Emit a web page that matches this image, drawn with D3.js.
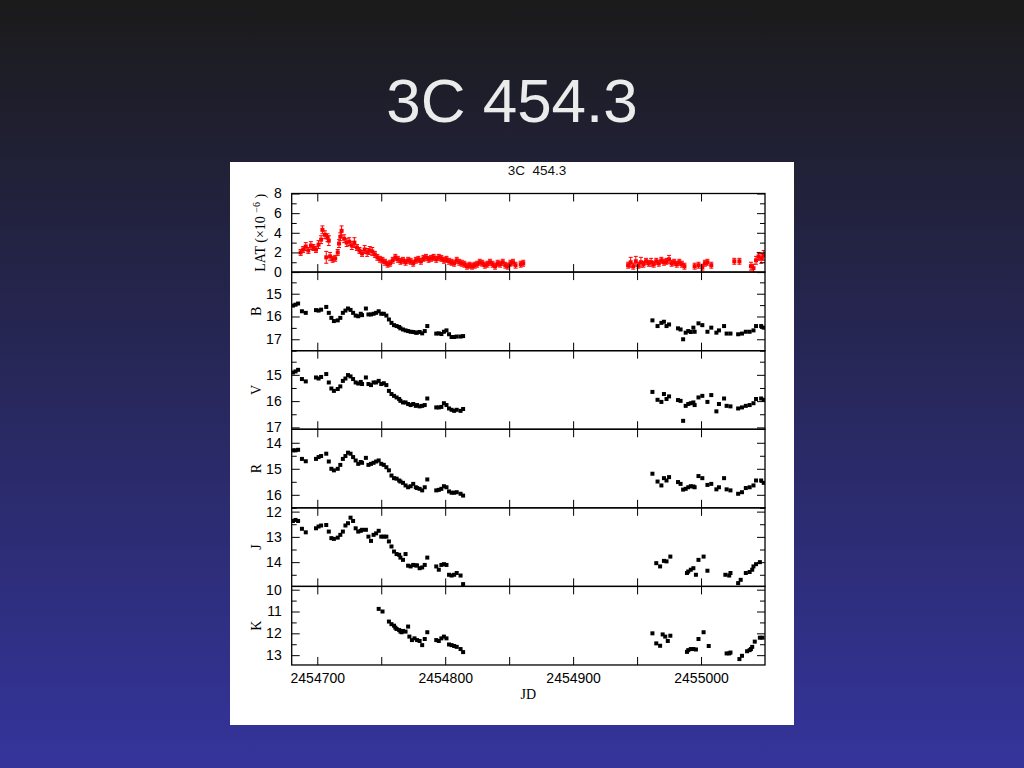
<!DOCTYPE html>
<html><head><meta charset="utf-8">
<script src="https://cdn.jsdelivr.net/npm/d3@7"></script>
<style>html,body{margin:0;padding:0;overflow:hidden;background:#1b1b1b}</style>
</head><body>
<svg id="c" width="1024" height="768"></svg>
<script>
// ---------------- DATA ----------------
const slideTitle = "3C 454.3";
const plotTitle = "3C  454.3";
const JD0 = 2454680;                 // times below are days since JD0
const xDomain = [2454680, 2455050];
const xTicks = [2454700, 2454750, 2454800, 2454850, 2454900, 2454950, 2455000];
const xLabels = [2454700, 2454800, 2454900, 2455000];

// Fermi LAT flux (x10^-6)
const latT = [7,9,11,13,15,17,19,21,23,24,26,27,28,29,30,32,34,36,37,38,39,41,43,45,47,49,51,53,55,57,59,61,63,65,67,69,71,73,75,77,79,81,83,85,87,89,91,93,95,97,99,101,103,105,107,109,111,113,115,117,119,121,123,125,127,129,131,133,135,137,139,141,143,145,147,149,151,153,155,157,159,161,163,165,167,169,171,173,175,179,181,
 263,265,267,269,271,273,275,277,279,281,283,285,287,289,291,293,295,297,299,301,303,305,307,315,318,321,323,325,328,346,350,359,361,363,365,367,369];
const latFlux = [2.0,2.3,2.6,2.2,2.7,2.5,2.3,2.8,3.3,4.3,3.8,1.5,3.5,3.2,1.6,1.3,1.4,2.0,2.9,3.6,4.2,3.4,3.0,3.1,2.7,3.0,2.5,2.2,1.9,2.3,2.0,2.2,2.1,1.8,1.5,1.3,1.2,1.0,0.8,0.9,1.2,1.5,1.3,1.1,1.2,1.0,1.2,1.1,0.9,1.2,1.3,1.1,1.4,1.5,1.3,1.4,1.5,1.3,1.5,1.4,1.2,1.3,1.1,1.0,0.9,1.2,1.0,0.9,0.8,0.6,0.7,0.6,0.7,0.8,1.0,0.9,0.7,0.8,1.0,0.8,0.6,0.9,0.8,1.0,0.7,0.6,0.9,1.0,0.7,0.8,0.9,
 0.7,1.0,0.6,1.1,0.7,1.0,0.8,1.1,0.9,1.0,0.8,1.1,0.9,1.2,1.0,1.1,1.3,0.9,1.0,0.8,1.0,0.8,0.6,0.6,0.7,0.5,0.9,1.0,0.7,1.1,1.1,0.6,0.4,1.2,1.6,1.4,1.7];
const latErr = [0.3,0.3,0.4,0.3,0.4,0.3,0.3,0.4,0.4,0.4,0.4,0.6,0.4,0.5,0.4,0.3,0.3,0.3,0.4,0.4,0.5,0.4,0.4,0.4,0.4,0.5,0.3,0.3,0.3,0.4,0.4,0.4,0.4,0.3,0.3,0.3,0.3,0.3,0.3,0.3,0.3,0.3,0.3,0.3,0.3,0.3,0.3,0.3,0.3,0.3,0.3,0.3,0.3,0.3,0.3,0.3,0.3,0.3,0.3,0.3,0.3,0.3,0.3,0.3,0.3,0.3,0.3,0.3,0.3,0.3,0.3,0.3,0.3,0.3,0.3,0.3,0.3,0.3,0.3,0.3,0.3,0.3,0.3,0.3,0.3,0.3,0.3,0.3,0.3,0.3,0.3,
 0.3,0.5,0.3,0.5,0.3,0.5,0.3,0.3,0.3,0.4,0.3,0.3,0.3,0.3,0.3,0.3,0.4,0.3,0.3,0.3,0.3,0.3,0.3,0.3,0.3,0.3,0.3,0.3,0.3,0.3,0.3,0.4,0.4,0.4,0.4,0.5,0.5];

// Optical / NIR magnitudes, season 1 (shared epochs for B, V, R, J)
const optT1 = [1,3,5,8,11,19,21,23,27,29,31,33,36,38,40,42,44,46,48,50,52,54,55,58,60,62,64,66,68,70,72,74,76,78,80,82,84,85,87,89,91,93,95,97,98,100,102,104,106,113,115,117,119,121,123,125,127,129,132,134];
const bMag1 = [15.52,15.48,15.43,15.77,15.84,15.72,15.74,15.70,15.58,15.84,16.06,16.20,16.17,16.06,15.84,15.74,15.65,15.71,15.84,15.96,15.99,15.88,15.94,15.65,15.91,15.91,15.88,15.84,15.77,15.88,15.88,15.96,16.13,16.28,16.38,16.42,16.46,16.52,16.57,16.61,16.64,16.67,16.68,16.71,16.71,16.68,16.74,16.64,16.42,16.75,16.74,16.77,16.67,16.61,16.78,16.90,16.90,16.88,16.88,16.86];
const vMag1 = [14.91,14.87,14.81,15.16,15.25,15.10,15.14,15.08,14.97,15.29,15.52,15.61,15.54,15.44,15.23,15.14,15.01,15.06,15.16,15.29,15.33,15.27,15.35,15.10,15.35,15.39,15.29,15.29,15.23,15.35,15.32,15.39,15.61,15.73,15.80,15.86,15.92,15.99,16.05,16.05,16.11,16.15,16.11,16.18,16.15,16.20,16.18,16.15,15.90,16.24,16.24,16.22,16.08,16.15,16.28,16.33,16.37,16.33,16.37,16.30];
const rMag1 = [14.29,14.29,14.27,14.62,14.71,14.62,14.55,14.51,14.42,14.72,15.00,15.06,15.00,14.85,14.62,14.51,14.38,14.42,14.55,14.68,14.81,14.74,14.77,14.58,14.85,14.81,14.77,14.72,14.68,14.81,14.85,14.94,15.06,15.26,15.36,15.38,15.45,15.49,15.54,15.64,15.71,15.67,15.58,15.71,15.74,15.77,15.83,15.71,15.41,15.83,15.81,15.77,15.67,15.71,15.87,15.92,15.92,15.90,15.96,16.03];
const jMag1 = [12.37,12.33,12.37,12.68,12.82,12.66,12.59,12.55,12.53,12.79,13.05,13.08,13.03,12.92,12.79,12.55,12.46,12.24,12.37,12.66,12.79,12.76,12.72,12.72,12.99,13.16,12.92,12.86,12.76,12.99,12.99,12.99,13.18,13.38,13.58,13.68,13.71,13.82,13.91,13.68,14.14,14.17,14.11,14.13,14.13,14.24,14.21,14.11,13.82,14.17,14.30,14.11,14.08,14.11,14.50,14.53,14.50,14.43,14.53,14.87];
const kT1 = [68,71,76,78,80,81,82,84,85,86,87,89,91,92,94,96,98,100,102,104,106,113,115,117,119,121,123,125,127,129,132,134];
const kMag1 = [10.88,11.0,11.46,11.58,11.65,11.74,11.8,11.85,11.92,11.95,11.89,11.92,11.69,12.15,12.31,12.23,12.31,12.35,12.54,12.26,11.95,12.31,12.35,12.23,12.15,12.23,12.51,12.54,12.58,12.62,12.72,12.86];

// season 2
const optT2 = [282,286,289,291,293,295,302,304,306,308,310,312,314,315,318,321,325,328,332,334,338,340,343,349,352,355,358,361,363,367,369];
const bMag2 = [16.17,16.42,16.28,16.23,16.42,16.35,16.52,16.57,17.0,16.71,16.64,16.68,16.49,16.67,16.30,16.38,16.67,16.49,16.71,16.61,16.42,16.75,16.75,16.78,16.75,16.67,16.67,16.61,16.42,16.42,16.49];
const vMag2 = [15.65,15.95,16.03,15.73,15.92,15.82,15.96,15.99,16.75,16.18,16.11,16.08,16.05,16.15,15.86,15.80,16.03,15.77,16.39,16.11,15.90,16.18,16.20,16.28,16.24,16.18,16.15,16.08,15.92,15.90,15.95];
const rMag2 = [15.19,15.49,15.64,15.36,15.45,15.32,15.51,15.58,15.80,15.77,15.71,15.67,15.68,15.71,15.28,15.36,15.62,15.58,15.79,15.71,15.36,15.79,15.83,15.96,15.90,15.74,15.71,15.64,15.45,15.45,15.54];
const jT2 = [285,288,291,293,296,309,310,312,314,316,318,322,325,339,342,343,349,351,355,358,360,361,363,366];
const jMag2 = [14.04,14.17,13.95,13.97,13.78,14.43,14.37,14.30,14.24,14.50,13.91,13.78,14.34,14.50,14.53,14.43,14.83,14.70,14.43,14.39,14.30,14.17,14.08,14.00];
const kT2 = [282,285,288,290,292,294,296,309,310,312,314,316,318,322,326,340,342,343,350,352,356,358,359,360,362,366,368];
const kMag2 = [12.0,12.46,12.57,12.05,12.15,12.35,12.11,12.85,12.77,12.72,12.72,12.74,12.26,11.95,12.58,12.92,12.92,12.88,13.18,13.03,12.82,12.77,12.72,12.62,12.38,12.2,12.2];

// y tick labels
const latTicks = [0,2,4,6,8],   latMinor = [1,3,5,7];
const bTicks = [15,16,17],      bMinor = [14.5,15.5,16.5,17.5];
const vTicks = [15,16,17],      vMinor = [14.5,15.5,16.5];
const rTicks = [14,15,16],      rMinor = [14.5,15.5,16.5];
const jTicks = [12,13,14],      jMinor = [12.5,13.5,14.5];
const kTicks = [10,11,12,13],   kMinor = [10.5,11.5,12.5,13.5];

// ---------------- DRAW ----------------
const svg = d3.select('#c');
const defs = svg.append('defs');
const grad = defs.append('linearGradient').attr('id','bg').attr('x1',0).attr('y1',0).attr('x2',0).attr('y2',1);
grad.append('stop').attr('offset','0%').attr('stop-color','#1b1b1b');
grad.append('stop').attr('offset','100%').attr('stop-color','#34349c');
svg.append('rect').attr('width',1024).attr('height',768).attr('fill','url(#bg)');

svg.append('text').attr('x',512).attr('y',122).attr('text-anchor','middle')
  .attr('font-family','Liberation Sans, Arial, Helvetica, sans-serif').attr('font-size',62)
  .attr('fill','#ebebeb').text(slideTitle);

svg.append('rect').attr('x',230).attr('y',162).attr('width',564).attr('height',563).attr('fill','#ffffff');

const SANS = 'Liberation Sans, Arial, Helvetica, sans-serif';
const SERIF = 'Liberation Serif, Times New Roman, serif';

svg.append('text').attr('x',537).attr('y',175).attr('text-anchor','middle')
  .attr('font-family',SANS).attr('font-size',13.5).attr('fill','#111')
  .style('white-space','pre').text(plotTitle);

const X0 = 291.7, X1 = 765, TOP = 193.5, PH = 78.58;
const x = d3.scaleLinear().domain(xDomain).range([X0, X1]);

const toPts = (t, v) => t.map((d,i)=>({jd: JD0 + d, v: v[i]})).filter(d => d.v != null);

const panels = [
  {label:'LAT', domain:[0,8], major:latTicks, minor:latMinor, lat:true},
  {label:'B', domain:[14.05,17.5], major:bTicks, minor:bMinor, pts: toPts(optT1,bMag1).concat(toPts(optT2,bMag2))},
  {label:'V', domain:[14.08,17.07], major:vTicks, minor:vMinor, pts: toPts(optT1,vMag1).concat(toPts(optT2,vMag2))},
  {label:'R', domain:[13.48,16.5], major:rTicks, minor:rMinor, pts: toPts(optT1,rMag1).concat(toPts(optT2,rMag2))},
  {label:'J', domain:[11.85,14.96], major:jTicks, minor:jMinor, pts: toPts(optT1,jMag1).concat(toPts(jT2,jMag2))},
  {label:'K', domain:[9.85,13.45], major:kTicks, minor:kMinor, pts: toPts(kT1,kMag1).concat(toPts(kT2,kMag2))}
];

panels.forEach((p, i) => {
  const top = TOP + i*PH, bot = top + PH;
  const y = p.lat ? d3.scaleLinear().domain(p.domain).range([bot, top])
                  : d3.scaleLinear().domain(p.domain).range([top, bot]);
  const pg = svg.append('g');
  const cid = 'clip' + i;
  defs.append('clipPath').attr('id', cid).append('rect')
    .attr('x', X0).attr('y', top).attr('width', X1 - X0).attr('height', PH);
  const data = pg.append('g').attr('clip-path', `url(#${cid})`);

  if (p.lat) {
    const lp = latT.map((d,k)=>({jd: JD0 + d, v: latFlux[k], e: latErr[k]}));
    const eb = data.selectAll('g.eb').data(lp).join('g').attr('stroke','#ff0000').attr('stroke-width',1);
    eb.append('line').attr('x1',d=>x(d.jd)).attr('x2',d=>x(d.jd)).attr('y1',d=>y(d.v-d.e)).attr('y2',d=>y(d.v+d.e));
    eb.append('line').attr('x1',d=>x(d.jd)-2).attr('x2',d=>x(d.jd)+2).attr('y1',d=>y(d.v-d.e)).attr('y2',d=>y(d.v-d.e));
    eb.append('line').attr('x1',d=>x(d.jd)-2).attr('x2',d=>x(d.jd)+2).attr('y1',d=>y(d.v+d.e)).attr('y2',d=>y(d.v+d.e));
    data.selectAll('rect.m').data(lp).join('rect').attr('class','m')
      .attr('x',d=>x(d.jd)-2).attr('y',d=>y(d.v)-2).attr('width',4).attr('height',4).attr('fill','#ff0000');
  } else {
    data.selectAll('rect.m').data(p.pts).join('rect').attr('class','m')
      .attr('x',d=>x(d.jd)-2).attr('y',d=>y(d.v)-2).attr('width',4).attr('height',4).attr('fill','#000');
  }

  const style = g => {
    g.select('.domain').remove();
    g.selectAll('line').attr('stroke','#000').attr('stroke-width',1);
    g.selectAll('text').attr('font-family',SANS).attr('font-size',14).attr('fill','#000');
  };
  // x axes (top and bottom of every panel)
  const last = i === panels.length - 1;
  pg.append('g').attr('transform',`translate(0,${top})`)
    .call(d3.axisTop(x).tickValues(xTicks).tickSizeInner(-8).tickSizeOuter(0).tickFormat('')).call(style);
  pg.append('g').attr('transform',`translate(0,${bot})`)
    .call(d3.axisBottom(x).tickValues(xTicks).tickSizeInner(-8).tickSizeOuter(0).tickPadding(8)
      .tickFormat(d => (last && xLabels.includes(d)) ? String(d) : '')).call(style);
  // y axes
  pg.append('g').attr('transform',`translate(${X0},0)`)
    .call(d3.axisLeft(y).tickValues(p.major).tickSizeInner(-8).tickSizeOuter(0).tickPadding(10).tickFormat(d3.format('d'))).call(style);
  pg.append('g').attr('transform',`translate(${X0},0)`)
    .call(d3.axisLeft(y).tickValues(p.minor.filter(v => v >= Math.min(...p.domain) && v <= Math.max(...p.domain))).tickSizeInner(-5).tickSizeOuter(0).tickFormat('')).call(style);
  pg.append('g').attr('transform',`translate(${X1},0)`)
    .call(d3.axisRight(y).tickValues(p.major).tickSizeInner(-8).tickSizeOuter(0).tickFormat('')).call(style);
  pg.append('g').attr('transform',`translate(${X1},0)`)
    .call(d3.axisRight(y).tickValues(p.minor.filter(v => v >= Math.min(...p.domain) && v <= Math.max(...p.domain))).tickSizeInner(-5).tickSizeOuter(0).tickFormat('')).call(style);

  // frame
  pg.append('rect').attr('x',X0).attr('y',top).attr('width',X1-X0).attr('height',PH)
    .attr('fill','none').attr('stroke','#000').attr('stroke-width',1.3);

  // y label
  const cy = (top + bot) / 2;
  if (p.lat) {
    const t = pg.append('text').attr('transform',`translate(265,${cy}) rotate(-90)`).attr('text-anchor','middle')
      .attr('font-family',SERIF).attr('font-size',14).attr('fill','#000');
    t.append('tspan').text('LAT (×10 ');
    t.append('tspan').attr('dy',-5).attr('font-size',10).text('−6');
    t.append('tspan').attr('dy',5).text(' )');
  } else {
    pg.append('text').attr('transform',`translate(260.5,${cy}) rotate(-90)`).attr('text-anchor','middle')
      .attr('font-family',SERIF).attr('font-size',14).attr('fill','#000').text(p.label);
  }
});

svg.append('text').attr('x',(X0+X1)/2).attr('y',699).attr('text-anchor','middle')
  .attr('font-family',SERIF).attr('font-size',14).attr('fill','#000').text('JD');
</script>
</body></html>
